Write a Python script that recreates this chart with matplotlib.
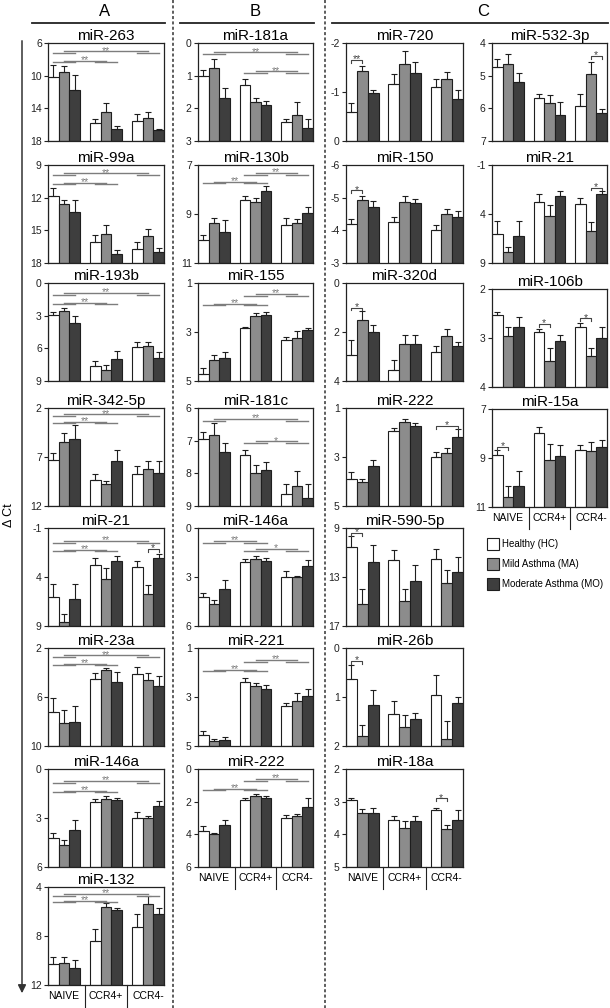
import matplotlib.pyplot as plt
import numpy as np

plt.rcParams['font.family'] = ['Liberation Sans', 'DejaVu Sans']

groups = ['NAIVE', 'CCR4+', 'CCR4-']
series = ['Healthy (HC)', 'Mild Asthma (MA)', 'Moderate Asthma (MO)']

# delta Ct, order: NAIVE HC/MA/MO, CCR4+ HC/MA/MO, CCR4- HC/MA/MO
# ---- column A
a263 = [10.2, 9.6, 11.8, 15.8, 14.5, 16.5, 15.55, 15.15, 16.65]
a263_err = [1.5, 0.75, 1.9, 0.5, 1.2, 0.3, 0.85, 0.75, 0.15]
a263_ticks = [6, 10, 14, 18]
a99a = [11.85, 12.6, 13.3, 16.1, 15.3, 17.2, 16.7, 15.55, 17.0]
a99a_err = [0.7, 0.4, 1.1, 0.7, 0.8, 0.4, 0.6, 0.7, 0.4]
a99a_ticks = [9, 12, 15, 18]
a193b = [2.95, 2.55, 3.65, 7.65, 8.0, 7.0, 5.9, 5.8, 6.9]
a193b_err = [0.3, 0.25, 0.65, 0.45, 0.5, 0.8, 0.5, 0.4, 0.55]
a193b_ticks = [0, 3, 6, 9]
a342 = [7.3, 5.45, 5.15, 9.3, 9.8, 7.45, 8.7, 8.2, 8.65]
a342_err = [0.7, 0.95, 1.4, 0.6, 0.4, 1.15, 0.75, 0.8, 1.25]
a342_ticks = [2, 7, 12]
a21 = [6.0, 8.6, 6.25, 2.8, 4.2, 2.35, 3.0, 5.7, 2.1]
a21_err = [1.3, 0.8, 1.5, 0.75, 1.1, 0.5, 0.65, 0.85, 0.45]
a21_ticks = [-1, 4, 9]
a23a = [7.2, 8.1, 8.0, 4.55, 3.8, 4.8, 4.1, 4.65, 5.1]
a23a_err = [1.1, 1.0, 1.3, 0.5, 0.15, 0.85, 0.55, 0.65, 0.8]
a23a_ticks = [2, 6, 10]
a146a = [4.2, 4.65, 3.75, 2.05, 1.85, 1.9, 3.0, 2.97, 2.25]
a146a_err = [0.3, 0.3, 0.6, 0.2, 0.2, 0.15, 0.35, 0.07, 0.3]
a146a_ticks = [0, 3, 6]
a132 = [10.3, 10.2, 10.6, 8.4, 5.6, 5.9, 7.25, 5.35, 6.2]
a132_err = [0.55, 0.5, 0.65, 0.95, 0.3, 0.2, 1.05, 0.6, 0.5]
a132_ticks = [4, 8, 12]

# ---- column B
b181a = [1.0, 0.76, 1.69, 1.29, 1.82, 1.9, 2.42, 2.19, 2.6]
b181a_err = [0.17, 0.28, 0.3, 0.2, 0.15, 0.13, 0.08, 0.39, 0.26]
b181a_ticks = [0, 1, 2, 3]
b130b = [10.05, 9.35, 9.73, 8.42, 8.5, 8.07, 9.46, 9.35, 8.95]
b130b_err = [0.18, 0.2, 0.48, 0.14, 0.14, 0.2, 0.29, 0.14, 0.22]
b130b_ticks = [7, 9, 11]
b155 = [4.72, 4.14, 4.06, 2.85, 2.35, 2.29, 3.32, 3.23, 2.91]
b155_err = [0.27, 0.2, 0.26, 0.07, 0.13, 0.09, 0.13, 0.29, 0.08]
b155_ticks = [1, 3, 5]
b181c = [6.96, 6.83, 7.34, 7.45, 8.0, 7.9, 8.64, 8.38, 8.74]
b181c_err = [0.24, 0.38, 0.28, 0.17, 0.26, 0.26, 0.31, 0.46, 0.41]
b181c_ticks = [6, 7, 8, 9]
b146a = [4.24, 4.67, 3.75, 2.11, 1.89, 1.99, 3.03, 3.0, 2.3]
b146a_err = [0.29, 0.27, 0.57, 0.2, 0.2, 0.15, 0.37, 0.05, 0.35]
b146a_ticks = [0, 3, 6]
b221 = [4.55, 4.8, 4.75, 2.38, 2.55, 2.69, 3.35, 3.15, 2.97]
b221_err = [0.15, 0.08, 0.12, 0.16, 0.12, 0.2, 0.12, 0.3, 0.28]
b221_ticks = [1, 3, 5]
b222 = [3.8, 4.0, 3.45, 1.9, 1.65, 1.75, 3.0, 2.9, 2.3]
b222_err = [0.3, 0.1, 0.3, 0.1, 0.15, 0.1, 0.2, 0.15, 0.5]
b222_ticks = [0, 2, 4, 6]

# ---- column C (left)
c720 = [-0.6, -1.42, -0.98, -1.17, -1.57, -1.38, -1.1, -1.27, -0.86]
c720_err = [0.18, 0.12, 0.07, 0.2, 0.27, 0.23, 0.16, 0.14, 0.18]
c720_ticks = [-2, -1, 0]
c150 = [-4.18, -4.94, -4.71, -4.25, -4.87, -4.84, -4.02, -4.5, -4.42]
c150_err = [0.17, 0.11, 0.18, 0.17, 0.17, 0.11, 0.14, 0.14, 0.18]
c150_ticks = [-6, -5, -4, -3]
c320d = [2.93, 1.51, 2.01, 3.55, 2.47, 2.47, 2.8, 2.17, 2.57]
c320d_err = [0.6, 0.38, 0.3, 0.39, 0.34, 0.34, 0.23, 0.29, 0.16]
c320d_ticks = [0, 2, 4]
c222 = [3.88, 4.0, 3.36, 1.92, 1.58, 1.74, 3.01, 2.85, 2.19]
c222_err = [0.28, 0.1, 0.25, 0.1, 0.14, 0.14, 0.23, 0.21, 0.34]
c222_ticks = [1, 3, 5]
c590 = [10.55, 15.17, 11.77, 11.59, 14.96, 13.35, 11.5, 13.49, 12.59]
c590_err = [0.9, 1.17, 1.36, 0.76, 1.0, 1.3, 0.8, 1.03, 1.2]
c590_ticks = [9, 13, 17]
c26b = [0.63, 1.8, 1.17, 1.34, 1.61, 1.44, 0.96, 1.85, 1.13]
c26b_err = [0.28, 0.23, 0.32, 0.26, 0.24, 0.12, 0.4, 0.37, 0.13]
c26b_ticks = [0, 1, 2]
c18a = [2.95, 3.35, 3.35, 3.55, 3.8, 3.6, 3.25, 3.85, 3.55]
c18a_err = [0.05, 0.12, 0.15, 0.1, 0.2, 0.15, 0.05, 0.15, 0.3]
c18a_ticks = [2, 3, 4, 5]

# ---- column C (right)
d532 = [4.74, 4.64, 5.2, 5.67, 5.84, 6.2, 5.93, 4.95, 6.13]
d532_err = [0.26, 0.29, 0.27, 0.1, 0.24, 0.4, 0.36, 0.38, 0.1]
d532_ticks = [4, 5, 6, 7]
d21 = [6.07, 7.9, 6.25, 2.75, 4.25, 2.21, 2.93, 5.78, 1.96]
d21_err = [1.35, 0.5, 1.5, 0.8, 1.2, 0.55, 0.6, 0.95, 0.35]
d21_ticks = [-1, 4, 9]
d106b = [2.54, 2.95, 2.78, 2.88, 3.47, 3.06, 2.77, 3.37, 2.99]
d106b_err = [0.07, 0.18, 0.2, 0.06, 0.26, 0.13, 0.07, 0.17, 0.22]
d106b_ticks = [2, 3, 4]
d15a = [8.89, 10.59, 10.13, 7.97, 9.07, 8.93, 8.68, 8.72, 8.54]
d15a_err = [0.21, 0.46, 0.59, 0.25, 0.64, 0.48, 0.23, 0.36, 0.27]
d15a_ticks = [7, 9, 11]

# significance: group brackets (group1, group2, height, label), bar brackets (bar1, bar2, height, label)
colA = [
    ('miR-263', a263, a263_err, a263_ticks, [(0, 2, 0.915, '**'), (0, 1, 0.82, '**')], []),
    ('miR-99a', a99a, a99a_err, a99a_ticks, [(0, 2, 0.915, '**'), (0, 1, 0.82, '**')], []),
    ('miR-193b', a193b, a193b_err, a193b_ticks, [(0, 2, 0.9, '**'), (0, 1, 0.8, '**')], []),
    ('miR-342-5p', a342, a342_err, a342_ticks, [(0, 2, 0.935, '**'), (0, 1, 0.86, '**')], []),
    ('miR-21', a21, a21_err, a21_ticks, [(0, 2, 0.87, '**'), (0, 1, 0.78, '**')], [(7, 8, 0.79, '*')]),
    ('miR-23a', a23a, a23a_err, a23a_ticks, [(0, 2, 0.925, '**'), (0, 1, 0.84, '**')], []),
    ('miR-146a', a146a, a146a_err, a146a_ticks, [(0, 2, 0.88, '**'), (0, 1, 0.78, '**')], []),
    ('miR-132', a132, a132_err, a132_ticks, [(0, 2, 0.93, '**'), (0, 1, 0.86, '**')], []),
]
colB = [
    ('miR-181a', b181a, b181a_err, b181a_ticks, [(0, 2, 0.905, '**'), (1, 2, 0.71, '**')], []),
    ('miR-130b', b130b, b130b_err, b130b_ticks, [(1, 2, 0.92, '**'), (0, 1, 0.83, '**')], []),
    ('miR-155', b155, b155_err, b155_ticks, [(1, 2, 0.89, '**'), (0, 1, 0.79, '**')], []),
    ('miR-181c', b181c, b181c_err, b181c_ticks, [(0, 2, 0.89, '**'), (1, 2, 0.66, '*')], []),
    ('miR-146a', b146a, b146a_err, b146a_ticks, [(0, 1, 0.87, '**'), (1, 2, 0.785, '*')], []),
    ('miR-221', b221, b221_err, b221_ticks, [(1, 2, 0.88, '**'), (0, 1, 0.78, '**')], []),
    ('miR-222', b222, b222_err, b222_ticks, [(1, 2, 0.9, '**'), (0, 1, 0.8, '**')], []),
]
colC = [
    ('miR-720', c720, c720_err, c720_ticks, [], [(0, 1, 0.83, '**')]),
    ('miR-150', c150, c150_err, c150_ticks, [], [(0, 1, 0.74, '*')]),
    ('miR-320d', c320d, c320d_err, c320d_ticks, [], [(0, 1, 0.75, '*')]),
    ('miR-222', c222, c222_err, c222_ticks, [], [(6, 8, 0.82, '*')]),
    ('miR-590-5p', c590, c590_err, c590_ticks, [], [(0, 1, 0.95, '*')]),
    ('miR-26b', c26b, c26b_err, c26b_ticks, [], [(0, 1, 0.865, '*')]),
    ('miR-18a', c18a, c18a_err, c18a_ticks, [], [(6, 7, 0.7, '*')]),
]
colD = [
    ('miR-532-3p', d532, d532_err, d532_ticks, [], [(7, 8, 0.87, '*')]),
    ('miR-21', d21, d21_err, d21_ticks, [], [(7, 8, 0.77, '*')]),
    ('miR-106b', d106b, d106b_err, d106b_ticks, [], [(3, 4, 0.64, '*'), (6, 7, 0.70, '*')]),
    ('miR-15a', d15a, d15a_err, d15a_ticks, [], [(0, 1, 0.61, '*')]),
]

W, H = 610, 1008
fig = plt.figure(figsize=(W / 100, H / 100), dpi=100)

GAP = 3.9
xpos = np.array([g * GAP + k for g in range(3) for k in (-1, 0, 1)])
fills = ['white', '#8c8c8c', '#3e3e3e']
INK = '#1e1e1e'
BRK = '#7d7d7d'


def draw_panel(ax, title, vals, errs, ticks, gsig, bsig):
    base = ticks[-1]
    vals = np.asarray(vals, float)
    ax.bar(xpos, vals - base, bottom=base, width=1.0, color=fills * 3,
           edgecolor=INK, linewidth=0.8,
           yerr=[errs, np.zeros(9)],
           error_kw=dict(ecolor=INK, elinewidth=0.8, capsize=2.5, capthick=0.8))
    ax.set_ylim(ticks[-1], ticks[0])
    ax.set_xlim(-1.5, 2 * GAP + 1.5)
    ax.set_yticks(ticks)
    ax.set_yticklabels([str(t) for t in ticks])
    ax.set_xticks([])
    ax.tick_params(axis='y', length=3, width=0.8, pad=1.5, labelsize=7.5, colors='#222')
    for s in ax.spines.values():
        s.set_linewidth(0.9)
        s.set_color('#222')
    ax.set_title(title, fontsize=11, pad=1.5)
    tr = ax.get_xaxis_transform()
    for g1, g2, y, lab in gsig:
        c1, c2 = g1 * GAP, g2 * GAP
        kw = dict(color=BRK, lw=1.0, transform=tr)
        ax.plot([c1 - 1.05, c1 + 1.05], [y - 0.018] * 2, **kw)
        ax.plot([c2 - 1.05, c2 + 1.05], [y - 0.018] * 2, **kw)
        ax.plot([c1, c2], [y, y], **kw)
        ax.text((c1 + c2) / 2, y + 0.006, lab, transform=tr, ha='center', va='center',
                fontsize=7.5, color=BRK)
    for b1, b2, y, lab in bsig:
        x1, x2 = xpos[b1], xpos[b2]
        ax.plot([x1, x1, x2, x2], [y - 0.03, y, y, y - 0.03], transform=tr,
                color='#444', lw=0.8)
        ax.text((x1 + x2) / 2, y + 0.008, lab, transform=tr, ha='center', va='center',
                fontsize=7.5, color='#444')


def add_groups(ax):
    tr = ax.get_xaxis_transform()
    for g, name in enumerate(groups):
        ax.text(g * GAP, -0.06, name, transform=tr, ha='center', va='top', fontsize=7.5)
    for xs in (GAP / 2, GAP * 1.5):
        ax.plot([xs, xs], [0, -0.22], transform=tr, color='#222', lw=0.8, clip_on=False)


PH = 98
tops_main = [43, 165, 283, 408, 528, 648, 769, 887]
tops_right = [43, 165, 289, 409]
layout = [
    (48, 164, colA, tops_main),
    (198, 313, colB, tops_main),
    (346, 463, colC, tops_main),
    (492, 607, colD, tops_right),
]

for x0, x1, col, tops in layout:
    for i, spec in enumerate(col):
        y0 = tops[i]
        ax = fig.add_axes([x0 / W, 1 - (y0 + PH) / H, (x1 - x0) / W, PH / H])
        draw_panel(ax, *spec)
        if i == len(col) - 1:
            add_groups(ax)

# overlay for headers, separators, axis arrow and legend
ov = fig.add_axes([0, 0, 1, 1], zorder=-1)
ov.set_xlim(0, W)
ov.set_ylim(H, 0)
ov.axis('off')

for txt, xc, xa, xb in [('A', 105, 32, 165), ('B', 255, 180, 314), ('C', 483, 332, 608)]:
    ov.text(xc, 12, txt, ha='center', va='center', fontsize=12)
    ov.plot([xa, xb], [23, 23], color='#222', lw=1.3)

for xd in (173, 325):
    ov.plot([xd, xd], [0, H], color='#333', lw=1.1, linestyle=(0, (2.0, 1.5)))

ov.annotate('', xy=(22, 996), xytext=(22, 38),
            arrowprops=dict(arrowstyle='-|>', color='#333', lw=1.1, mutation_scale=12))
ov.text(9, 515, 'Δ Ct', rotation=90, ha='center', va='center', fontsize=9)

for i, (name, fc) in enumerate(zip(series, fills)):
    yc = 544 + 20 * i
    ov.add_patch(plt.Rectangle((487, yc - 6), 12, 12, facecolor=fc, edgecolor=INK, lw=0.8))
    ov.text(502, yc, name, ha='left', va='center', fontsize=7)

fig.savefig('out.png', dpi=100)
